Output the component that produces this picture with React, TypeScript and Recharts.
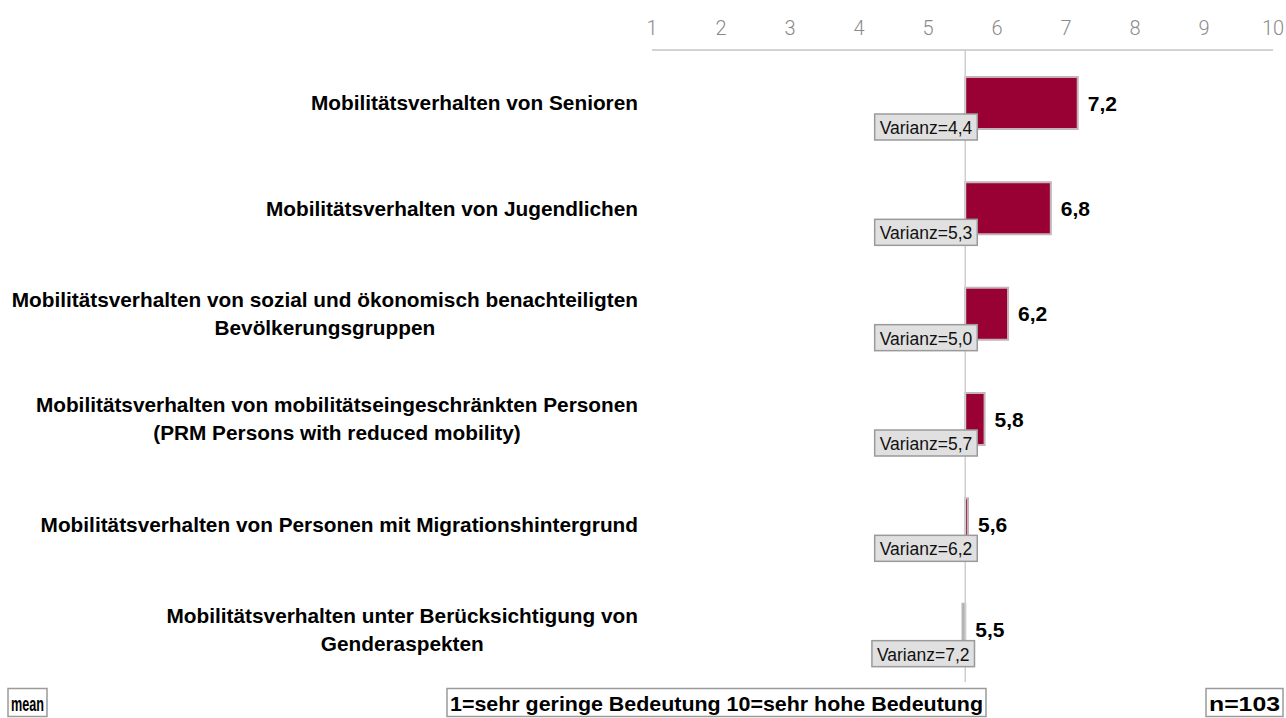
import React from "react";
import {
  Bar,
  ComposedChart,
  LabelList,
  ReferenceLine,
  XAxis,
  YAxis,
  Cell,
} from "recharts";

const CATEGORIES = [
  "Mobilitätsverhalten von Senioren",
  "Mobilitätsverhalten von Jugendlichen",
  "Mobilitätsverhalten von sozial und ökonomisch benachteiligten\nBevölkerungsgruppen",
  "Mobilitätsverhalten von mobilitätseingeschränkten Personen\n(PRM Persons with reduced mobility)",
  "Mobilitätsverhalten von Personen mit Migrationshintergrund",
  "Mobilitätsverhalten unter Berücksichtigung von\nGenderaspekten",
];
const MEANS = [7.17, 6.78, 6.16, 5.82, 5.58, 5.5];
const VARIANCES = [4.4, 5.3, 5.0, 5.7, 6.2, 7.2];
const OVERALL_MEAN = 5.54;
const SCALE_TICKS = [1, 2, 3, 4, 5, 6, 7, 8, 9, 10];
const SCALE_NOTE = "1=sehr geringe Bedeutung  10=sehr hohe Bedeutung";
const N_RESPONSES = 103;

const LABEL_FONT = "'Liberation Sans', Arial, sans-serif";
const BAR_COLOR = "#990033";

const fmt = (v: number) => v.toFixed(1).replace(".", ",");

let measureCtx: CanvasRenderingContext2D | null = null;
function textWidth(text: string, font: string): number {
  if (!measureCtx) measureCtx = document.createElement("canvas").getContext("2d");
  if (!measureCtx) return text.length * 10;
  measureCtx.font = font;
  return measureCtx.measureText(text).width;
}

const data = CATEGORIES.map((name, i) => ({
  name,
  range: MEANS[i] >= OVERALL_MEAN ? [OVERALL_MEAN, MEANS[i]] : [MEANS[i], OVERALL_MEAN],
  mean: MEANS[i],
  variance: VARIANCES[i],
}));

function CategoryTick(props: any) {
  const { x, y, payload } = props;
  const lines = String(payload.value).split("\n");
  const fontSize = 20.8;
  const lineHeight = 28;
  const widest = Math.max(
    ...lines.map((l) => textWidth(l, `bold ${fontSize}px ${LABEL_FONT}`))
  );
  const cx = x - widest / 2;
  const startY = y - ((lines.length - 1) * lineHeight) / 2;
  return (
    <g>
      {lines.map((line, i) => (
        <text
          key={i}
          x={cx}
          y={startY + i * lineHeight}
          textAnchor="middle"
          dominantBaseline="central"
          fontFamily={LABEL_FONT}
          fontWeight="bold"
          fontSize={fontSize}
          fill="#000"
        >
          {line}
        </text>
      ))}
    </g>
  );
}

function ValueLabel(props: any) {
  const { x, y, width, height, index } = props;
  const right = Math.max(x, x + width);
  return (
    <text
      x={right + 10}
      y={y + height / 2}
      dominantBaseline="central"
      fontFamily={LABEL_FONT}
      fontWeight="bold"
      fontSize={21}
      fill="#000"
    >
      {fmt(MEANS[index])}
    </text>
  );
}

function VarianceLabel(props: any) {
  const { x, y, width, height, index } = props;
  const left = Math.min(x, x + width);
  const text = `Varianz=${fmt(VARIANCES[index])}`;
  const fontSize = 17.5;
  const w = textWidth(text, `${fontSize}px ${LABEL_FONT}`) + 10;
  const boxH = 26;
  const boxRight = left + 12;
  const cy = y + height / 2 + 24;
  return (
    <g>
      <rect
        x={boxRight - w}
        y={cy - boxH / 2}
        width={w}
        height={boxH}
        fill="#e0e0e0"
        stroke="#9a9a9a"
        strokeWidth={1.5}
      />
      <text
        x={boxRight - w / 2}
        y={cy + 1}
        textAnchor="middle"
        dominantBaseline="central"
        fontFamily={LABEL_FONT}
        fontSize={fontSize}
        fill="#111"
      >
        {text}
      </text>
    </g>
  );
}

// footer boxes: [text, left, width]
const FOOTER: [string, number, number][] = [
  ["mean", 8, 39],
  [SCALE_NOTE, 447, 539],
  [`n=${N_RESPONSES}`, 1206, 77],
];

function Footer() {
  return (
    <svg
      width={1286}
      height={32}
      style={{ position: "absolute", left: 0, top: 686 }}
    >
      {FOOTER.map(([text, left, w]) => (
        <g key={text}>
          <rect
            x={left}
            y={2.5}
            width={w}
            height={28}
            fill="#fff"
            stroke="#9a9a9a"
            strokeWidth={1.5}
          />
          <text
            x={left + 3}
            y={17}
            dominantBaseline="central"
            textLength={w - 6}
            lengthAdjust="spacingAndGlyphs"
            fontFamily={LABEL_FONT}
            fontWeight="bold"
            fontSize={21}
            fill="#000"
          >
            {text}
          </text>
        </g>
      ))}
    </svg>
  );
}

export default function App() {
  return (
    <div
      style={{
        position: "absolute",
        left: 0,
        top: 0,
        width: 1286,
        height: 718,
        background: "#fff",
        overflow: "hidden",
      }}
    >
      <ComposedChart
        width={1286}
        height={718}
        data={data}
        layout="vertical"
        margin={{ top: 0, right: 13, bottom: 36, left: 0 }}
      >
        <XAxis
          type="number"
          orientation="top"
          domain={[1, 10]}
          ticks={SCALE_TICKS}
          height={50}
          tickLine={false}
          tickSize={0}
          tickMargin={15}
          axisLine={{ stroke: "#c4c4c4", strokeWidth: 1.5 }}
          tick={{ fill: "#8a8a8a", fontSize: 20, fontFamily: "Roboto, sans-serif", fontWeight: 300 }}
          allowDataOverflow
        />
        <YAxis
          type="category"
          dataKey="name"
          width={652}
          axisLine={false}
          tickLine={false}
          tickSize={0}
          tickMargin={14}
          tick={<CategoryTick />}
          interval={0}
        />
        <ReferenceLine x={OVERALL_MEAN} stroke="#cfcfcf" strokeWidth={1.5} ifOverflow="extendDomain" />
        <Bar
          dataKey="range"
          barSize={52}
          stroke="#c4b4b8"
          strokeWidth={2}
          isAnimationActive={false}
        >
          {data.map((d, i) => (
            <Cell
              key={i}
              fill={d.mean >= OVERALL_MEAN ? BAR_COLOR : "#aaaaaa"}
              stroke={d.mean >= OVERALL_MEAN ? "#c4b4b8" : "#b8b8b8"}
            />
          ))}
          <LabelList dataKey="mean" content={<ValueLabel />} />
          <LabelList dataKey="variance" content={<VarianceLabel />} />
        </Bar>
      </ComposedChart>
      <Footer />
    </div>
  );
}
